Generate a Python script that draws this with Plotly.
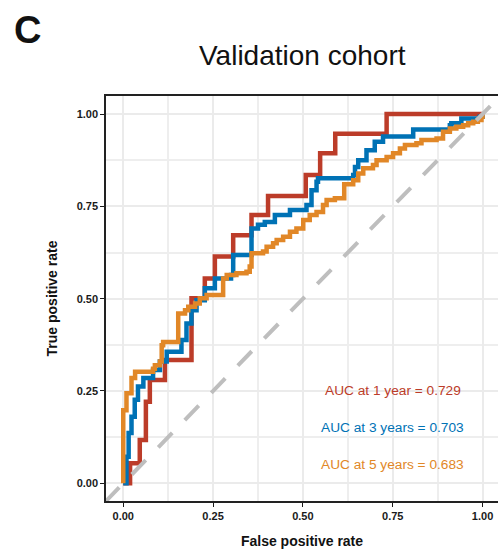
import plotly.graph_objects as go

# ---- data ----
fpr_1y = [0, 0.019, 0.046, 0.063, 0.074, 0.116, 0.19, 0.227, 0.255, 0.306, 0.357, 0.403, 0.508, 0.548, 0.59, 0.733, 1.0]
tpr_1y = [0, 0.054, 0.117, 0.221, 0.28, 0.334, 0.501, 0.555, 0.614, 0.672, 0.727, 0.778, 0.835, 0.894, 0.947, 1.0, 1.0]

fpr_3y = [0, 0.009, 0.015, 0.023, 0.032, 0.041, 0.056, 0.083, 0.102, 0.121, 0.162, 0.176, 0.19, 0.204, 0.227, 0.255,
          0.30, 0.306, 0.357, 0.375, 0.394, 0.422, 0.464, 0.51, 0.524, 0.538, 0.542, 0.64, 0.645, 0.654, 0.677, 0.70,
          0.723, 0.807, 0.909, 0.913, 0.941, 0.992, 1.0]
tpr_3y = [0, 0.072, 0.136, 0.18, 0.226, 0.262, 0.285, 0.307, 0.33, 0.356, 0.388, 0.433, 0.469, 0.496, 0.528, 0.555,
          0.564, 0.618, 0.69, 0.70, 0.708, 0.727, 0.74, 0.754, 0.794, 0.817, 0.826, 0.835, 0.857, 0.875, 0.902, 0.925,
          0.939, 0.958, 0.97, 0.975, 0.988, 0.993, 1.0]

fpr_5y = [0, 0, 0.009, 0.023, 0.033, 0.083, 0.088, 0.102, 0.107, 0.111, 0.153, 0.172, 0.181, 0.2, 0.213, 0.232,
          0.278, 0.288, 0.315, 0.343, 0.352, 0.357, 0.389, 0.399, 0.417, 0.427, 0.445, 0.464, 0.482, 0.501, 0.519,
          0.538, 0.556, 0.566, 0.589, 0.615, 0.64, 0.654, 0.668, 0.695, 0.705, 0.733, 0.751, 0.77, 0.784, 0.816,
          0.83, 0.872, 0.89, 0.909, 0.927, 0.946, 0.96, 0.974, 0.987, 0.997, 1.0]
tpr_5y = [0, 0.198, 0.244, 0.285, 0.302, 0.31, 0.32, 0.33, 0.374, 0.383, 0.46, 0.469, 0.478, 0.487, 0.501, 0.51,
          0.555, 0.564, 0.569, 0.573, 0.587, 0.623, 0.628, 0.641, 0.65, 0.659, 0.668, 0.681, 0.69, 0.713, 0.727,
          0.735, 0.754, 0.767, 0.772, 0.81, 0.821, 0.839, 0.853, 0.862, 0.875, 0.884, 0.894, 0.907, 0.916, 0.921,
          0.93, 0.934, 0.952, 0.961, 0.966, 0.97, 0.975, 0.979, 0.984, 0.993, 1.0]

diag = [-0.05, 1.05]

labels = ["AUC at 1 year = 0.729", "AUC at 3 years = 0.703", "AUC at 5 years = 0.683"]
label_y = [0.25, 0.15, 0.05]
colors = ["#BC3C29", "#0072B5", "#E18727"]

tick_vals = [0, 0.25, 0.5, 0.75, 1.0]
tick_text = ["0.00", "0.25", "0.50", "0.75", "1.00"]

FONT = "Arial, Liberation Sans, sans-serif"

fig = go.Figure()
for fx, ty, c in [(fpr_1y, tpr_1y, colors[0]), (fpr_3y, tpr_3y, colors[1]), (fpr_5y, tpr_5y, colors[2])]:
    fig.add_trace(go.Scatter(x=fx, y=ty, mode="lines", line=dict(color=c, width=4.5, shape="hv"),
                             showlegend=False, hoverinfo="skip"))

fig.add_trace(go.Scatter(x=diag, y=diag, mode="lines",
                         line=dict(color="#BEBEBE", width=4, dash="20px,18px"),
                         showlegend=False, hoverinfo="skip"))

for t, yv, c in zip(labels, label_y, colors):
    fig.add_annotation(x=0.75, y=yv, xref="x", yref="y", text=t, showarrow=False,
                       font=dict(family=FONT, size=13.7, color=c), xanchor="center", yanchor="middle")

fig.add_annotation(x=0.5, y=1.101, xref="paper", yref="paper", text="Validation cohort", showarrow=False,
                   font=dict(family=FONT, size=28, color="#111111"), xanchor="center", yanchor="middle")
fig.add_annotation(x=-0.2015, y=1.163, xref="paper", yref="paper", text="<b>C</b>", showarrow=False,
                   font=dict(family=FONT, size=38, color="#111111"), xanchor="center", yanchor="middle")

axis_common = dict(
    tickvals=tick_vals, ticktext=tick_text, ticks="outside", ticklen=4, tickwidth=1.2, tickcolor="#1a1a1a",
    showline=True, linecolor="#222222", linewidth=1.5,
    showgrid=True, gridcolor="#EBEBEB", gridwidth=2.2,
    minor=dict(dtick=0.125, tick0=0.125, showgrid=True, gridcolor="#EEEEEE", gridwidth=1.6, ticks=""),
    zeroline=False, automargin=False,
    tickfont=dict(family=FONT, size=11, color="#1a1a1a", weight="bold"),
)

fig.update_xaxes(range=[-0.048, 1.043], mirror=True, **axis_common,
                 title=dict(text="<b>False positive rate</b>", font=dict(family=FONT, size=14, color="#111111"),
                            standoff=18))
fig.update_yaxes(range=[-0.048, 1.049], **axis_common,
                 title=dict(text="<b>True positive rate</b>", font=dict(family=FONT, size=14, color="#111111"),
                            standoff=16))

fig.update_layout(width=498, height=549, margin=dict(l=106, r=0, t=96, b=48),
                  paper_bgcolor="white", plot_bgcolor="white")

fig.write_html("out.html", config={"displayModeBar": False},
               post_script="document.body.style.margin='0px';document.body.style.overflow='hidden';")
